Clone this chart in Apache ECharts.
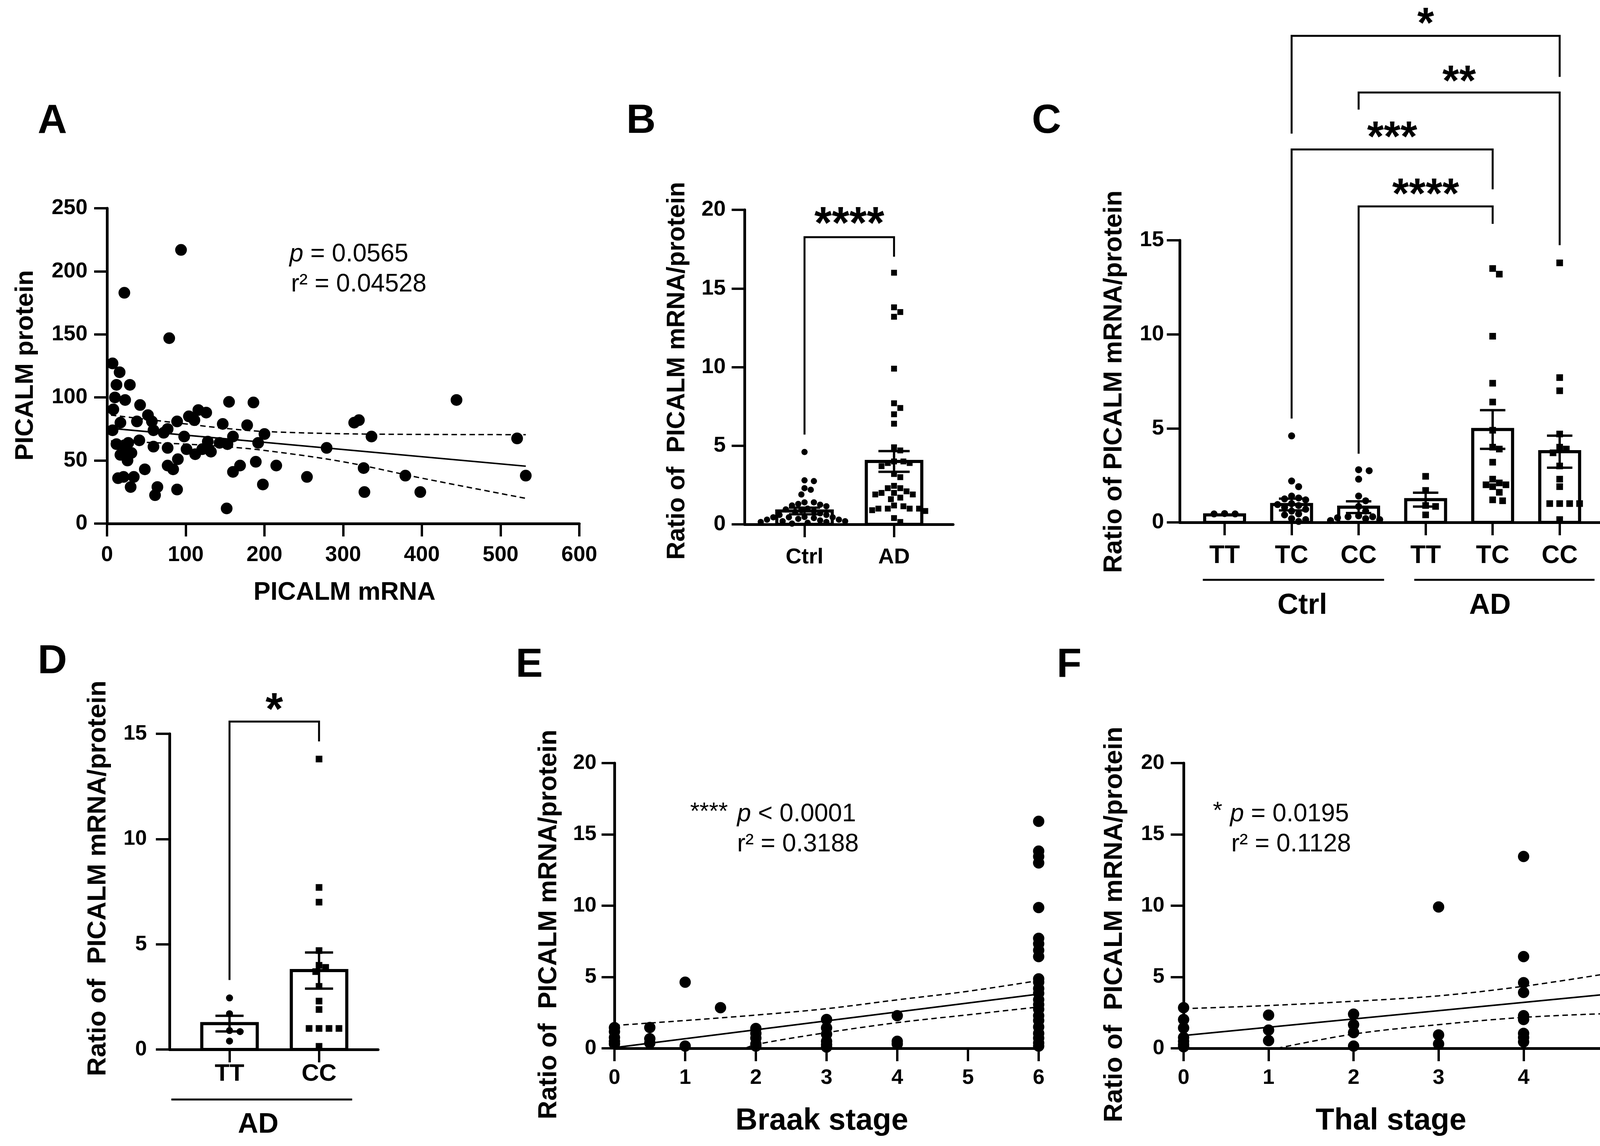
<!DOCTYPE html>
<html>
<head>
<meta charset="utf-8">
<script src="https://cdn.jsdelivr.net/npm/echarts@6/dist/echarts.min.js"></script>
<style>
html,body{margin:0;padding:0;background:#fff;}
#chart{width:4168px;height:2933px;}
</style>
</head>
<body>
<div id="chart"></div>
<script>
// ---------------- DATA ----------------
// Panel A: PICALM mRNA vs PICALM protein
const aMRNA = [94,22,79,7,16,12,29,10,23,8,42,7,17,38,52,57,59,72,77,89,98,104,111,116,126,41,12,22,27,17,25,31,26,59,77,101,112,121,128,132,143,153,147,160,155,186,178,200,192,189,215,169,160,198,77,84,90,48,14,21,34,30,64,61,89,152,254,279,314,320,336,326,327,379,398,444,521,532];
const aProtein = [217,183,147,127,120,110,110,100,98,90.5,94,74,80,81,86,81,74,72,75,81,69,85,82,90,88,66,63,62,64,54.5,56,56,50,61,60,59,55,59,65,57,64,63,79,69,96.5,96,78,71,64,49,46,46,41,31,46,43,51,43,36,37,37,29,29,22.5,27,12,37,60,80,82,69,44,25,38,25,98,67.5,38];
const aFitX = [5, 532];
const aFitY = [75.5, 45.5];
const aUpperX = [5, 100, 150, 200, 325, 532];
const aUpperY = [86, 79, 75.5, 73, 71, 70.5];
const aLowerX = [5, 100, 150, 200, 300, 400, 532];
const aLowerY = [65.5, 63, 61, 58, 49, 36, 20];
const aXTicks = [0, 600, 100];
const aYTicks = [0, 250, 50];

// Genotype groups (ratio of PICALM mRNA/protein)
const ctrlTT = [0.45, 0.47, 0.45];
const ctrlTC = [4.6, 2.2, 1.9, 1.4, 1.3, 1.25, 1.2, 1.0, 0.95, 0.9, 0.8, 0.7, 0.6, 0.45, 0.4, 0.2, 0.15, 0.05];
const ctrlCC = [2.8, 2.75, 2.3, 1.4, 1.15, 0.85, 0.6, 0.35, 0.3, 0.3, 0.25, 0.2, 0.15, 0.1];
const adTT = [2.45, 1.7, 0.9, 0.85, 0.4];
const adTC = [13.5, 13.2, 9.9, 7.4, 6.4, 4.9, 4.0, 3.9, 3.2, 2.3, 2.1, 2.0, 2.0, 1.9, 1.6, 1.2, 1.15];
const adCC = [13.8, 7.7, 7.0, 4.7, 4.0, 3.9, 3.7, 3.0, 2.3, 1.9, 1.0, 1.0, 1.0, 1.0, 0.15];
const adUngenotyped = [16.0];

// Panel B
const bCategories = ['Ctrl', 'AD'];
const bMean = [0.85, 4.0];
const bSem = [0.21, 0.66];
const bBrackets = [[1, 2, 18.26, 5.71, 17.02, 19.63]];
const bBracketLabels = ['****'];

// Panel C
const cCategories = ['TT', 'TC', 'CC', 'TT', 'TC', 'CC'];
const cMean = [0.4, 0.95, 0.81, 1.21, 4.94, 3.76];
const cSem = [0, 0.31, 0.31, 0.37, 1.03, 0.85];
const cBrackets = [[2, 6, 25.87, 20.67, 23.69, 26.93], [3, 6, 22.86, 21.95, 14.74, 23.86], [2, 5, 19.83, 5.52, 17.71, 20.89], [3, 5, 16.8, 3.65, 15.87, 17.85]];
const cBracketLabels = ['*', '**', '***', '****'];
const cGroupNames = ['Ctrl', 'AD'];
const cGroupSpans = [[0.675, 3.38], [3.83, 6.52]];
const cGroupLabelAt = [2.16, 4.96];

// Panel D
const dCategories = ['TT', 'CC'];
const dMean = [1.23, 3.75];
const dSem = [0.37, 0.86];
const dBrackets = [[1, 2, 15.58, 3.3, 14.64, 16.53]];
const dBracketLabels = ['*'];
const dGroupNames = ['AD'];
const dGroupSpans = [[0.35, 2.37]];
const dGroupLabelAt = [1.32];

// Panel E: Braak stage
const eBraak = [0,0,0,0,0, 0.5,0.5,0.5, 1,1, 1.5, 2,2,2,2,2, 3,3,3,3,3,3, 4,4,4, 6,6,6,6,6,6,6,6,6,6,6,6,6,6,6,6,6,6,6,6,6,6,6];
const eRatio = [1.45,1.17,0.76,0.49,0.31, 1.46,0.67,0.38, 4.64,0.16, 2.85, 1.39,1.05,0.72,0.31,0.16, 2.02,1.43,0.99,0.49,0.27,0.09, 2.29,0.49,0.31, 15.92,13.83,13.45,13.0,9.87,7.71,7.33,6.88,6.43,4.87,4.64,4.19,3.86,3.41,3.07,2.74,2.29,1.95,1.5,1.05,0.72,0.38,0.16];
const eFitX = [0, 6];
const eFitY = [0.05, 3.8];
const eUpperX = [0, 1, 2, 3, 4, 5, 6];
const eUpperY = [1.6, 1.95, 2.33, 2.78, 3.4, 4.0, 4.75];
const eLowerX = [1.85, 2, 3, 4, 5, 6];
const eLowerY = [0, 0.27, 1.1, 1.8, 2.35, 2.9];

// Panel F: Thal stage
const fThal = [0,0,0,0,0,0,0, 1,1,1, 2,2,2,2, 3,3,3, 4,4,4,4,4,4,4,4,4, 5,5,5,5,5,5,5,5,5,5,5,5];
const fRatio = [2.85,2.02,1.43,0.76,0.49,0.27,0.11, 2.33,1.28,0.54, 2.4,1.66,1.1,0.16, 9.91,0.94,0.31, 13.45,6.43,4.6,3.92,2.29,2.02,1.05,0.76,0.45, 15.96,13.05,7.0,4.01,3.41,3.07,2.29,1.88,1.17,0.83,0.49,0.2];
const fFitX = [0, 5];
const fFitY = [0.9, 3.8];
const fUpperX = [0, 1, 2, 3, 4, 5];
const fUpperY = [2.78, 3.0, 3.3, 3.68, 4.35, 5.25];
const fLowerX = [1.1, 2, 3, 4, 5];
const fLowerY = [0, 1.0, 1.66, 2.17, 2.44];

// ---------------- LAYOUT / STYLE ----------------
const FONT = "'Liberation Sans', Arial, Helvetica, sans-serif";
const K = '#000';
const G = {
  A: {left: 274, top: 533, width: 1209, height: 807},
  B: {left: 1906, top: 537, width: 534, height: 805},
  C: {left: 3020, top: 615, width: 1086, height: 722},
  D: {left: 434, top: 1878, width: 534, height: 808},
  E: {left: 1573, top: 1953, width: 1086, height: 730},
  F: {left: 3030, top: 1953, width: 1088, height: 730}
};
const catRange = n => [0.33, n + 0.66];
const zip = (xs, ys) => xs.map((x, i) => [x, ys[i]]);

function swarm(vals, pos, grid, xr, yMax, size) {
  const pxX = grid.width / (xr[1] - xr[0]);
  const pxY = grid.height / yMax;
  const order = vals.map((v, i) => i).sort((a, b) => vals[b] - vals[a]);
  const placed = [];
  const off = new Array(vals.length).fill(0);
  const step = size * 0.5, minD = size * 1.02;
  order.forEach(i => {
    const y = vals[i] * pxY;
    for (let k = 0; k < 400; k++) {
      const m = Math.ceil(k / 2);
      const s = (k % 2 === 1 ? m : -m) * step;
      let ok = true;
      for (const p of placed) {
        const dx = p.x - s, dy = p.y - y;
        if (dx * dx + dy * dy < minD * minD) { ok = false; break; }
      }
      if (ok) { placed.push({x: s, y}); off[i] = s; break; }
    }
  });
  return vals.map((v, i) => [pos + off[i] / pxX, v]);
}

function yAxisCfg(gi, max, interval, fs, margin, tickLen) {
  return {
    gridIndex: gi, type: 'value', min: 0, max: max, interval: interval,
    axisLine: {show: true, onZero: false, lineStyle: {color: K, width: 7}},
    axisTick: {show: true, length: tickLen || 33, lineStyle: {color: K, width: 6}},
    axisLabel: {color: K, fontSize: fs, fontWeight: 'bold', fontFamily: FONT, margin: margin},
    splitLine: {show: false}
  };
}
function xValueAxis(gi, min, max, interval, fs, margin) {
  return {
    gridIndex: gi, type: 'value', min: min, max: max, interval: interval,
    axisLine: {show: true, onZero: false, lineStyle: {color: K, width: 7}},
    axisTick: {show: true, length: 33, lineStyle: {color: K, width: 6}},
    axisLabel: {color: K, fontSize: fs, fontWeight: 'bold', fontFamily: FONT, margin: margin},
    splitLine: {show: false}
  };
}
function xCatAxis(gi, cats, fs, margin) {
  const r = catRange(cats.length);
  const vals = cats.map((c, i) => i + 1);
  return {
    gridIndex: gi, type: 'value', min: r[0], max: r[1],
    axisLine: {show: true, onZero: false, lineStyle: {color: K, width: 7}},
    axisTick: {show: true, customValues: vals, length: 33, lineStyle: {color: K, width: 6}},
    axisLabel: {customValues: vals, formatter: v => cats[Math.round(v) - 1] || '', color: K, fontSize: fs, fontWeight: 'bold', fontFamily: FONT, margin: margin},
    splitLine: {show: false}
  };
}

function barSeries(gi, means, sems, barW) {
  return {
    type: 'custom', xAxisIndex: gi, yAxisIndex: gi, z: 2, silent: true,
    data: means.map((m, i) => [i + 1, m, sems[i]]),
    renderItem: (p, api) => {
      const top = api.coord([api.value(0), api.value(1)]);
      const base = api.coord([api.value(0), 0]);
      const lw = 8;
      return {type: 'rect', shape: {x: top[0] - (barW - lw) / 2, y: top[1], width: barW - lw, height: base[1] - top[1]},
        style: {fill: '#fff', stroke: K, lineWidth: lw}};
    }
  };
}
function errSeries(gi, means, sems, capW) {
  return {
    type: 'custom', xAxisIndex: gi, yAxisIndex: gi, z: 4, silent: true,
    data: means.map((m, i) => [i + 1, m, sems[i]]),
    renderItem: (p, api) => {
      const x = api.value(0), m = api.value(1), s = api.value(2);
      if (!s) return null;
      const hi = api.coord([x, m + s]), lo = api.coord([x, m - s]);
      const st = {stroke: K, lineWidth: 6};
      return {type: 'group', children: [
        {type: 'line', shape: {x1: hi[0], y1: hi[1], x2: lo[0], y2: lo[1]}, style: st},
        {type: 'line', shape: {x1: hi[0] - capW / 2, y1: hi[1], x2: hi[0] + capW / 2, y2: hi[1]}, style: st},
        {type: 'line', shape: {x1: lo[0] - capW / 2, y1: lo[1], x2: lo[0] + capW / 2, y2: lo[1]}, style: st}
      ]};
    }
  };
}
function bracketSeries(gi, rows, labels, fs) {
  return {
    type: 'custom', xAxisIndex: gi, yAxisIndex: gi, z: 5, silent: true, clip: false,
    data: rows.map((r, i) => r.concat([i])),
    renderItem: (p, api) => {
      const x1 = api.value(0), x2 = api.value(1);
      const a = api.coord([x1, api.value(3)]);
      const b = api.coord([x1, api.value(2)]);
      const c = api.coord([x2, api.value(2)]);
      const d = api.coord([x2, api.value(4)]);
      const t = api.coord([(x1 + x2) / 2, api.value(5)]);
      return {type: 'group', children: [
        {type: 'polyline', shape: {points: [a, b, c, d]}, style: {stroke: K, lineWidth: 5, fill: 'none'}},
        {type: 'text', x: t[0], y: t[1] + 0.22 * fs, style: {text: labels[api.value(6)], fontSize: fs, fontWeight: 'bold', fontFamily: FONT, fill: K, align: 'center', verticalAlign: 'middle', textAlign: 'center', textVerticalAlign: 'middle'}}
      ]};
    }
  };
}
function groupSeries(gi, spans, names, labelAt, lineOff, textOff, fs) {
  return {
    type: 'custom', xAxisIndex: gi, yAxisIndex: gi, z: 5, silent: true, clip: false,
    data: spans.map((s, i) => [s[0], s[1], labelAt[i], i]),
    renderItem: (p, api) => {
      const a = api.coord([api.value(0), 0]);
      const b = api.coord([api.value(1), 0]);
      const t = api.coord([api.value(2), 0]);
      return {type: 'group', children: [
        {type: 'line', shape: {x1: a[0], y1: a[1] + lineOff, x2: b[0], y2: b[1] + lineOff}, style: {stroke: K, lineWidth: 5}},
        {type: 'text', x: t[0], y: t[1] + textOff, style: {text: names[api.value(3)], fontSize: fs, fontWeight: 'bold', fontFamily: FONT, fill: K, align: 'center', verticalAlign: 'middle', textAlign: 'center', textVerticalAlign: 'middle'}}
      ]};
    }
  };
}
function scat(gi, data, symbol, size, z) {
  return {type: 'scatter', xAxisIndex: gi, yAxisIndex: gi, data: data, symbol: symbol, symbolSize: size,
    itemStyle: {color: K, opacity: 1}, z: z || 3, silent: true};
}
function lineS(gi, data, dashed, width, smooth) {
  return {type: 'line', xAxisIndex: gi, yAxisIndex: gi, data: data, symbol: 'none', showSymbol: false, silent: true,
    smooth: smooth ? 0.35 : false, z: 4,
    lineStyle: {color: K, width: width, type: dashed ? [14, 9] : 'solid'}};
}
function txt(x, y, text, fs, opts) {
  opts = opts || {};
  const style = {text: text, fontSize: fs, fontWeight: opts.weight || 'bold', fontFamily: FONT, fill: K,
    align: opts.align || 'center', verticalAlign: 'middle', textAlign: opts.align || 'center', textVerticalAlign: 'middle'};
  if (opts.rich) style.rich = opts.rich;
  const el = {type: 'text', x: x, y: y, style: style, silent: true, z: 10};
  if (opts.rot) el.rotation = opts.rot;
  return el;
}
const richP = fs => ({it: {fontStyle: 'italic', fontSize: fs, fontFamily: FONT, fontWeight: 'normal', fill: K}});

// ---------------- derived point layouts ----------------
const bCtrl = ctrlTT.concat(ctrlTC, ctrlCC);
const bAD = adTT.concat(adTC, adCC, adUngenotyped);
const rB = catRange(2), rC = catRange(6), rD = catRange(2);
const bCtrlPts = swarm(bCtrl, 1, G.B, rB, 20, 16);
const bADPts = swarm(bAD, 2, G.B, rB, 20, 16);
const cCtrlPts = [].concat(swarm(ctrlTT, 1, G.C, rC, 15, 18), swarm(ctrlTC, 2, G.C, rC, 15, 18), swarm(ctrlCC, 3, G.C, rC, 15, 18));
const cADPts = [].concat(swarm(adTT, 4, G.C, rC, 15, 17), swarm(adTC, 5, G.C, rC, 15, 17), swarm(adCC, 6, G.C, rC, 15, 17));
const dTTPts = swarm(adTT, 1, G.D, rD, 15, 18);
const dCCPts = swarm(adCC, 2, G.D, rD, 15, 17);

const option = {
  backgroundColor: '#fff',
  animation: false,
  grid: [G.A, G.B, G.C, G.D, G.E, G.F].map(g => Object.assign({containLabel: false}, g)),
  xAxis: [
    xValueAxis(0, aXTicks[0], aXTicks[1], aXTicks[2], 55, 53),
    xCatAxis(1, bCategories, 56, 57),
    xCatAxis(2, cCategories, 64, 54),
    xCatAxis(3, dCategories, 62, 32),
    xValueAxis(4, 0, 6, 1, 54, 49),
    xValueAxis(5, 0, 5, 1, 54, 49)
  ],
  yAxis: [
    yAxisCfg(0, aYTicks[1], aYTicks[2], 55, 50),
    yAxisCfg(1, 20, 5, 56, 48),
    yAxisCfg(2, 15, 5, 56, 40),
    yAxisCfg(3, 15, 5, 54, 58, 35),
    yAxisCfg(4, 20, 5, 54, 46),
    yAxisCfg(5, 20, 5, 54, 49)
  ],
  series: [
    // A
    scat(0, zip(aMRNA, aProtein), 'circle', 30),
    lineS(0, zip(aFitX, aFitY), false, 4, false),
    lineS(0, zip(aUpperX, aUpperY), true, 3.5, true),
    lineS(0, zip(aLowerX, aLowerY), true, 3.5, true),
    // B
    barSeries(1, bMean, bSem, 150),
    scat(1, bCtrlPts, 'circle', 16),
    scat(1, bADPts, 'rect', 15),
    errSeries(1, bMean, bSem, 80),
    bracketSeries(1, bBrackets, bBracketLabels, 115),
    // C
    barSeries(2, cMean, cSem, 110),
    scat(2, cCtrlPts, 'circle', 18),
    scat(2, cADPts, 'rect', 17),
    errSeries(2, cMean, cSem, 65),
    bracketSeries(2, cBrackets, cBracketLabels, 110),
    groupSeries(2, cGroupSpans, cGroupNames, cGroupLabelAt, 147, 214, 74),
    // D
    barSeries(3, dMean, dSem, 150),
    scat(3, dTTPts, 'circle', 18),
    scat(3, dCCPts, 'rect', 17),
    errSeries(3, dMean, dSem, 72),
    bracketSeries(3, dBrackets, dBracketLabels, 115),
    groupSeries(3, dGroupSpans, dGroupNames, dGroupLabelAt, 128, 193, 72),
    // E
    scat(4, zip(eBraak, eRatio), 'circle', 29),
    lineS(4, zip(eFitX, eFitY), false, 4, false),
    lineS(4, zip(eUpperX, eUpperY), true, 3.5, true),
    lineS(4, zip(eLowerX, eLowerY), true, 3.5, true),
    // F
    scat(5, zip(fThal, fRatio), 'circle', 29),
    lineS(5, zip(fFitX, fFitY), false, 4, false),
    lineS(5, zip(fUpperX, fUpperY), true, 3.5, true),
    lineS(5, zip(fLowerX, fLowerY), true, 3.5, true)
  ],
  graphic: [
    // panel letters
    txt(134, 311, 'A', 104), txt(1641, 311, 'B', 104), txt(2679, 311, 'C', 104),
    txt(134, 1694, 'D', 104), txt(1355, 1703, 'E', 104), txt(2737, 1703, 'F', 104),
    // axis titles
    txt(66, 935, 'PICALM protein', 65, {rot: Math.PI / 2}),
    txt(882, 1517, 'PICALM mRNA', 65),
    txt(1734, 949, 'Ratio of  PICALM mRNA/protein', 64, {rot: Math.PI / 2}),
    txt(2853, 977, 'Ratio of PICALM mRNA/protein', 66, {rot: Math.PI / 2}),
    txt(252, 2248, 'Ratio of  PICALM mRNA/protein', 67, {rot: Math.PI / 2}),
    txt(1406, 2366, 'Ratio of  PICALM mRNA/protein', 66, {rot: Math.PI / 2}),
    txt(2104, 2869, 'Braak stage', 78),
    txt(2854, 2366, 'Ratio of  PICALM mRNA/protein', 67, {rot: Math.PI / 2}),
    txt(3561, 2869, 'Thal stage', 78),
    // statistics annotations
    txt(741, 651, '{it|p} = 0.0565', 64, {weight: 'normal', align: 'left', rich: richP(64)}),
    txt(745, 728, 'r\u00B2 = 0.04528', 64, {weight: 'normal', align: 'left'}),
    txt(1815, 2079, '****', 62, {weight: 'normal'}),
    txt(1887, 2084, '{it|p} < 0.0001', 64, {weight: 'normal', align: 'left', rich: richP(64)}),
    txt(1887, 2161, 'r\u00B2 = 0.3188', 64, {weight: 'normal', align: 'left'}),
    txt(3117, 2077, '*', 62, {weight: 'normal'}),
    txt(3149, 2084, '{it|p} = 0.0195', 64, {weight: 'normal', align: 'left', rich: richP(64)}),
    txt(3152, 2161, 'r\u00B2 = 0.1128', 64, {weight: 'normal', align: 'left'})
  ]
};

const chart = echarts.init(document.getElementById('chart'), null, {renderer: 'canvas'});
chart.setOption(option);
</script>
</body>
</html>
